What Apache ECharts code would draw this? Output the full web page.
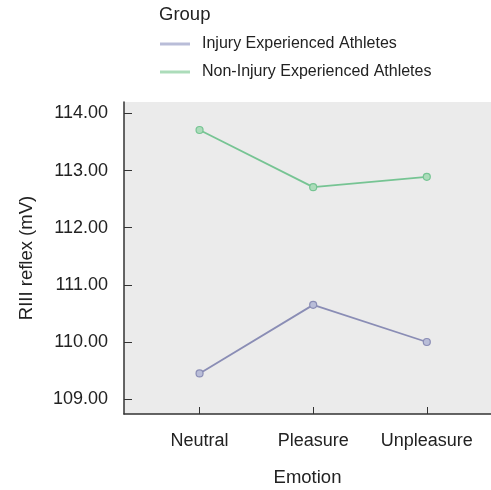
<!DOCTYPE html>
<html>
<head>
<meta charset="utf-8">
<script src="https://cdn.jsdelivr.net/npm/echarts@6/dist/echarts.min.js"></script>
<style>
html,body{margin:0;padding:0;background:#fff;}
#chart{width:491px;height:490px;}
</style>
</head>
<body>
<div id="chart"></div>
<script>
var categories=['Neutral','Pleasure','Unpleasure'];
var injured=[109.45,110.65,110.00];
var nonInjured=[113.71,112.71,112.89];
var yTicks=[109,110,111,112,113,114];
var seriesNames=['Injury Experienced Athletes','Non-Injury Experienced Athletes'];
var lineColors=['#8a8db5','#76c493'];

/**
 * 把类目序号和数值组合成点
 */
function toPoints(values)
{
	var pts=[];
	for(var i=0;i<values.length;i++)
	{
		pts.push([i,values[i]]);
	}
	return pts;
}

var myChart=echarts.init(document.getElementById('chart'));
var font='"Liberation Sans", Arial, sans-serif';
var option={
	animation:false,
	textStyle:{fontFamily:font},
	title:{
		text:'Group',
		left:159,
		top:5,
		padding:0,
		textStyle:{fontSize:18.5,fontWeight:'normal',color:'#222',fontFamily:font}
	},
	legend:{
		orient:'vertical',
		left:160,
		top:36,
		padding:0,
		itemWidth:30,
		itemHeight:3,
		itemGap:12,
		icon:'rect',
		data:seriesNames,
		itemStyle:{borderWidth:0},
		textStyle:{fontSize:16,color:'#222',padding:[0,0,0,7],fontFamily:font}
	},
	grid:{left:124,right:0,top:102,bottom:76,outerBoundsMode:'none',show:true,backgroundColor:'#ebebeb',borderWidth:0},
	xAxis:{
		type:'value',
		min:-0.665,
		max:2.565,
		name:'Emotion',
		nameLocation:'middle',
		nameGap:54,
		nameTextStyle:{fontSize:18.5,color:'#222'},
		axisLine:{show:true,onZero:false,lineStyle:{color:'#333',width:1.5}},
		axisTick:{show:true,inside:true,length:7,customValues:[0,1,2],lineStyle:{color:'#333'}},
		axisLabel:{
			customValues:[0,1,2],
			margin:18,
			fontSize:18,
			color:'#222',
			formatter:function(v){return categories[Math.round(v)];}
		},
		splitLine:{show:false}
	},
	yAxis:{
		type:'value',
		min:108.74,
		max:114.2,
		name:'RIII reflex (mV)',
		nameLocation:'middle',
		nameGap:88,
		nameTextStyle:{fontSize:18.5,color:'#222'},
		axisLine:{show:true,onZero:false,lineStyle:{color:'#333',width:1.5}},
		axisTick:{show:true,inside:true,length:8,customValues:yTicks,lineStyle:{color:'#333'}},
		axisLabel:{
			customValues:yTicks,
			margin:16,
			fontSize:18,
			color:'#222',
			formatter:function(v){return v.toFixed(2);}
		},
		splitLine:{show:false}
	},
	series:[
		{
			name:seriesNames[0],
			type:'line',
			data:toPoints(injured),
			symbol:'circle',
			symbolSize:7,
			color:lineColors[0],
			lineStyle:{width:1.8,color:lineColors[0]},
			itemStyle:{color:'#b9bdd8',borderColor:lineColors[0],borderWidth:1.2}
		},
		{
			name:seriesNames[1],
			type:'line',
			data:toPoints(nonInjured),
			symbol:'circle',
			symbolSize:7,
			color:lineColors[1],
			lineStyle:{width:1.8,color:lineColors[1]},
			itemStyle:{color:'#acdcba',borderColor:lineColors[1],borderWidth:1.2}
		}
	]
};
myChart.setOption(option);
</script>
</body>
</html>
